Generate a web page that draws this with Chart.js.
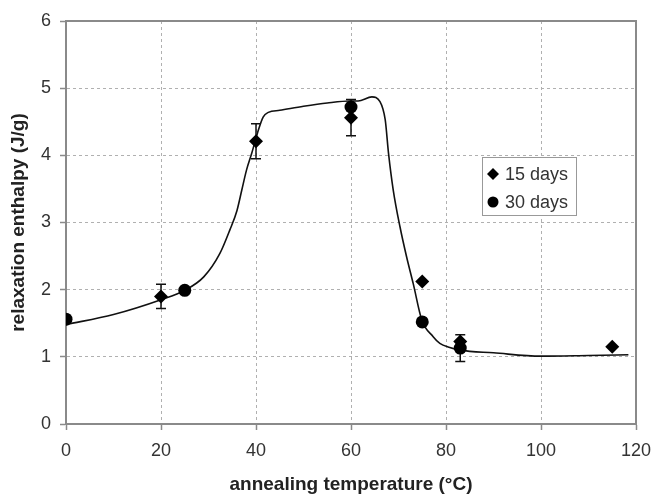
<!DOCTYPE html>
<html>
<head>
<meta charset="utf-8">
<script src="https://cdn.jsdelivr.net/npm/chart.js@4.4.0/dist/chart.umd.min.js"></script>
<style>
    html, body { margin: 0; padding: 0; background: #fff; }
    #wrap { width: 652px; height: 495px; }
</style>
</head>
<body>
<div id="wrap"><canvas id="myChart"></canvas></div>
<script>
// 15 days (diamonds)
const days15X = [20, 40, 60, 75, 83, 115]
const days15Y = [1.90, 4.21, 4.56, 2.12, 1.23, 1.15]
const days15Err = [0.18, 0.26, 0.27, 0, 0, 0]

// 30 days (circles)
const days30X = [0, 25, 60, 75, 83]
const days30Y = [1.56, 1.99, 4.72, 1.52, 1.13]
const days30Err = [0, 0, 0, 0, 0.20]

// fitted curve
const fitX = [0, 10, 20, 25, 29, 32.4, 34.5, 36, 37, 38, 39.1, 40.3, 41.5, 42.6, 45, 50, 55, 59.8, 61.5, 64.4, 66.1, 67.2, 67.9, 68.9, 70.3, 71.7, 73.1, 74.9, 77.3, 78.7, 80.8, 83, 90, 100, 110, 118.4]
const fitY = [1.48, 1.63, 1.85, 1.99, 2.19, 2.54, 2.89, 3.18, 3.48, 3.78, 4.03, 4.33, 4.57, 4.64, 4.67, 4.73, 4.78, 4.81, 4.81, 4.87, 4.80, 4.53, 4.03, 3.48, 2.94, 2.49, 2.09, 1.55, 1.30, 1.20, 1.14, 1.10, 1.06, 1.01, 1.02, 1.03]

const legendLabels = ['15 days', '30 days']

const FONT = '"Liberation Sans", Arial, sans-serif'

function toPoints(xs, ys) {
    const pts = []
    for (let i = 0; i < xs.length; i++) {
        pts.push({ x: xs[i], y: ys[i] })
    }
    return pts
}

// linhas de erro, desenhadas atras dos pontos
const errorBars = {
    id: 'errorBars',
    beforeDatasetsDraw(chart) {
        const ctx = chart.ctx
        const xs = chart.scales.x
        const ys = chart.scales.y
        const sets = [[days15X, days15Y, days15Err], [days30X, days30Y, days30Err]]
        ctx.save()
        ctx.strokeStyle = '#111'
        ctx.lineWidth = 1.5
        sets.forEach(function (s) {
            for (let i = 0; i < s[0].length; i++) {
                if (!s[2][i]) continue
                const px = xs.getPixelForValue(s[0][i])
                const top = ys.getPixelForValue(s[1][i] + s[2][i])
                const bot = ys.getPixelForValue(s[1][i] - s[2][i])
                ctx.beginPath()
                ctx.moveTo(px, top); ctx.lineTo(px, bot)
                ctx.moveTo(px - 5, top); ctx.lineTo(px + 5, top)
                ctx.moveTo(px - 5, bot); ctx.lineTo(px + 5, bot)
                ctx.stroke()
            }
        })
        ctx.restore()
    }
}

// moldura e legenda
const frame = {
    id: 'frame',
    afterDraw(chart) {
        const ctx = chart.ctx
        const a = chart.chartArea
        ctx.save()
        ctx.strokeStyle = '#8a8a8a'
        ctx.lineWidth = 2
        ctx.beginPath()
        ctx.moveTo(a.left, a.top); ctx.lineTo(a.right, a.top); ctx.lineTo(a.right, a.bottom)
        ctx.stroke()

        // legenda
        const bx = a.left + 416
        const by = a.top + 136
        ctx.fillStyle = '#fff'
        ctx.fillRect(bx, by, 94, 58)
        ctx.strokeStyle = '#999'
        ctx.lineWidth = 1
        ctx.strokeRect(bx + 0.5, by + 0.5, 94, 58)

        ctx.fillStyle = '#000'
        const cx = bx + 11
        let cy = by + 17
        ctx.beginPath()
        ctx.moveTo(cx, cy - 6); ctx.lineTo(cx + 6, cy); ctx.lineTo(cx, cy + 6); ctx.lineTo(cx - 6, cy)
        ctx.closePath()
        ctx.fill()
        ctx.beginPath()
        ctx.arc(cx, cy + 28, 5.5, 0, Math.PI * 2)
        ctx.fill()

        ctx.fillStyle = '#333'
        ctx.font = '18px ' + FONT
        ctx.textBaseline = 'middle'
        ctx.textAlign = 'left'
        ctx.fillText(legendLabels[0], bx + 23, cy + 1)
        ctx.fillText(legendLabels[1], bx + 23, cy + 29)
        ctx.restore()
    }
}

const cfg = {
    type: 'scatter',
    data: {
        datasets: [{
            label: 'fit',
            data: toPoints(fitX, fitY),
            showLine: true,
            borderColor: '#111',
            borderWidth: 1.6,
            pointRadius: 0,
            cubicInterpolationMode: 'monotone',
            order: 3
        }, {
            label: legendLabels[0],
            data: toPoints(days15X, days15Y),
            pointStyle: 'rectRot',
            pointRadius: 7,
            backgroundColor: '#000',
            borderColor: '#000',
            borderWidth: 0,
            order: 2
        }, {
            label: legendLabels[1],
            data: toPoints(days30X, days30Y),
            pointStyle: 'circle',
            pointRadius: 6.5,
            backgroundColor: '#000',
            borderColor: '#000',
            borderWidth: 0,
            order: 1
        }]
    },
    options: {
        responsive: true,
        maintainAspectRatio: false,
        animation: false,
        layout: {
            padding: { left: 0, top: 21, right: 16, bottom: 0 }
        },
        scales: {
            x: {
                type: 'linear',
                min: 0,
                max: 120,
                afterFit: function (scale) {
                    scale.height = 71
                    scale.paddingLeft = 0
                    scale.paddingRight = 0
                },
                ticks: {
                    stepSize: 20,
                    color: '#333',
                    padding: 10,
                    font: { family: FONT, size: 18 }
                },
                grid: {
                    color: '#b0b0b0',
                    lineWidth: 1,
                    tickLength: 6,
                    tickColor: '#8a8a8a',
                    tickWidth: 1.5,
                    tickBorderDash: []
                },
                border: { color: '#8a8a8a', width: 2, dash: [3, 3] },
                title: {
                    display: true,
                    text: 'annealing temperature (°C)',
                    color: '#222',
                    padding: { top: 0, bottom: 1 },
                    font: { family: FONT, size: 19, weight: 'bold', lineHeight: 1 }
                }
            },
            y: {
                min: 0,
                max: 6,
                afterFit: function (scale) {
                    scale.width = 66
                    scale.paddingTop = 0
                    scale.paddingBottom = 0
                },
                ticks: {
                    stepSize: 1,
                    color: '#333',
                    padding: 9,
                    font: { family: FONT, size: 18 }
                },
                grid: {
                    color: '#b0b0b0',
                    lineWidth: 1,
                    tickLength: 6,
                    tickColor: '#8a8a8a',
                    tickWidth: 1.5,
                    tickBorderDash: []
                },
                border: { color: '#8a8a8a', width: 2, dash: [3, 3] },
                title: {
                    display: true,
                    text: 'relaxation enthalpy (J/g)',
                    color: '#222',
                    padding: { top: 9, bottom: 0 },
                    font: { family: FONT, size: 19, weight: 'bold', lineHeight: 1 }
                }
            }
        },
        plugins: {
            legend: { display: false },
            tooltip: { enabled: false }
        }
    },
    plugins: [errorBars, frame]
}

const ctx = document.getElementById('myChart').getContext('2d')
const myChart = new Chart(ctx, cfg)
</script>
</body>
</html>
